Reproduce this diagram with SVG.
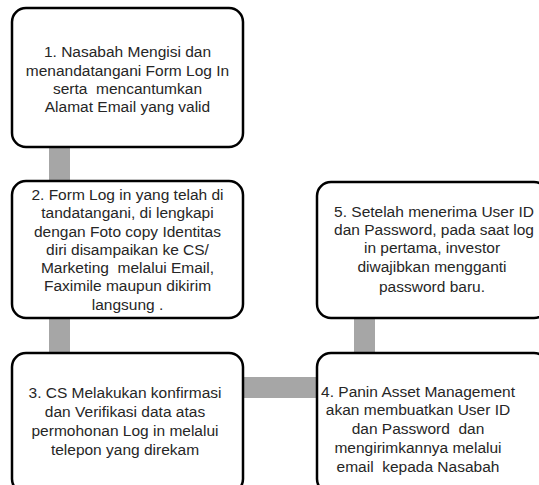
<svg xmlns="http://www.w3.org/2000/svg" width="539" height="485" viewBox="0 0 539 485">
<style>
.box{fill:#fff;stroke:#000;stroke-width:2.5}
.con{fill:#a6a6a6}
text{font-family:"Liberation Sans",Arial,sans-serif;font-size:15.5px;fill:#262626;text-anchor:middle;white-space:pre}
</style>
<rect width="539" height="485" fill="#fff"/>
<g id="connectors">
<rect class="con" x="49" y="146" width="21" height="36"/>
<rect class="con" x="49" y="317" width="21" height="37"/>
<rect class="con" x="242" y="377" width="76" height="21"/>
<rect class="con" x="354" y="317" width="21" height="37"/>
</g>
<g id="node1">
<rect class="box" x="12" y="8" width="231" height="139" rx="14"/>
<text x="127.5" y="57">1. Nasabah Mengisi dan</text>
<text x="127.5" y="76">menandatangani Form Log In</text>
<text x="127.5" y="94">serta  mencantumkan</text>
<text x="127.5" y="112">Alamat Email yang valid</text>
</g>
<g id="node2">
<rect class="box" x="12" y="181" width="231" height="137" rx="14"/>
<text x="127.5" y="200">2. Form Log in yang telah di</text>
<text x="127.5" y="218">tandatangani, di lengkapi</text>
<text x="127.5" y="237">dengan Foto copy Identitas</text>
<text x="127.5" y="255">diri disampaikan ke CS/</text>
<text x="127.5" y="273">Marketing  melalui Email,</text>
<text x="127.5" y="291">Faximile maupun dikirim</text>
<text x="127.5" y="310">langsung .</text>
</g>
<g id="node3">
<rect class="box" x="12" y="353" width="231" height="140" rx="14"/>
<text x="125" y="398">3. CS Melakukan konfirmasi</text>
<text x="125" y="417">dan Verifikasi data atas</text>
<text x="125" y="436">permohonan Log in melalui</text>
<text x="125" y="455">telepon yang direkam</text>
</g>
<g id="node4">
<rect class="box" x="317" y="353" width="231" height="140" rx="14"/>
<text x="418" y="397">4. Panin Asset Management</text>
<text x="418" y="415">akan membuatkan User ID</text>
<text x="418" y="434">dan Password  dan</text>
<text x="418" y="453">mengirimkannya melalui</text>
<text x="418" y="472">email  kepada Nasabah</text>
</g>
<g id="node5">
<rect class="box" x="317" y="182" width="231" height="136" rx="14"/>
<text x="434" y="217">5. Setelah menerima User ID</text>
<text x="434" y="235">dan Password, pada saat log</text>
<text x="432" y="253">in pertama, investor</text>
<text x="432" y="272">diwajibkan mengganti</text>
<text x="432" y="292">password baru.</text>
</g>
</svg>
